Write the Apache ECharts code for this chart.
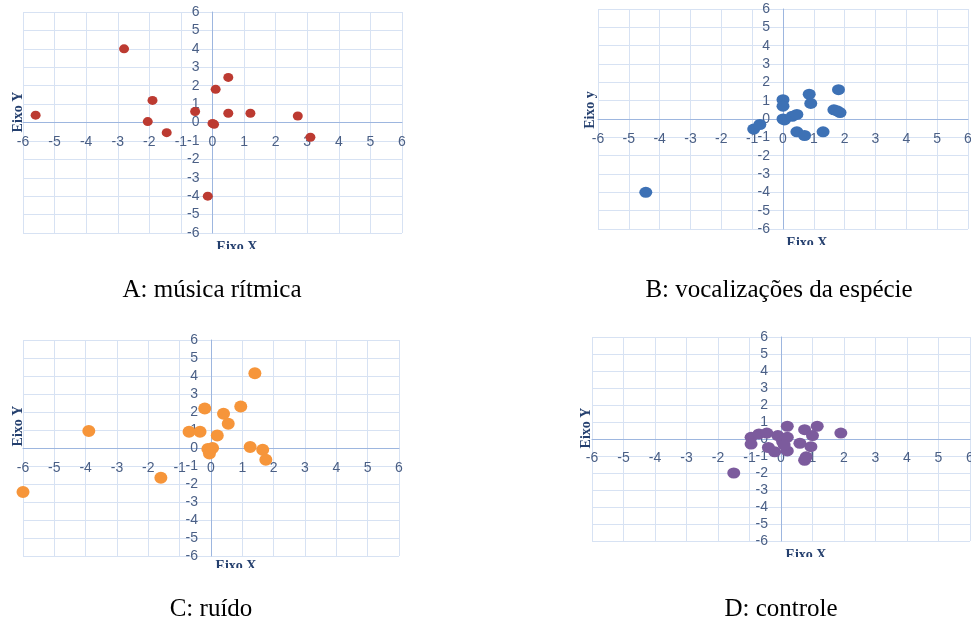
<!DOCTYPE html>
<html>
<head>
<meta charset="utf-8">
<script src="https://cdn.jsdelivr.net/npm/echarts@6/dist/echarts.min.js"></script>
<style>
  html, body { margin: 0; padding: 0; background: #fff; }
  #main { width: 971px; height: 620px; }
</style>
</head>
<body>
<div id="main"></div>
<script>
var myChart = echarts.init(document.getElementById('main'));

const ritmica = [
  [-5.6, 0.4], [-2.8, 4.0], [-1.9, 1.2], [-2.05, 0.05], [-1.45, -0.55],
  [-0.55, 0.6], [0.0, -0.05], [0.05, -0.1], [0.1, 1.8], [0.5, 2.45],
  [0.5, 0.5], [1.2, 0.5], [2.7, 0.35], [3.1, -0.8], [-0.15, -4.0]
];
const vocalizacoes = [
  [-4.45, -4.0], [-0.95, -0.55], [-0.75, -0.3], [0.0, 1.05], [0.0, 0.7],
  [0.0, 0.0], [0.05, -0.05], [0.3, 0.15], [0.45, 0.25], [0.45, -0.7],
  [0.7, -0.9], [0.85, 1.35], [0.9, 0.85], [1.3, -0.7], [1.65, 0.5],
  [1.75, 0.45], [1.85, 0.35], [1.8, 1.6]
];
const ruido = [
  [-6.0, -2.45], [-3.9, 0.95], [-1.6, -1.65], [-0.7, 0.9], [-0.35, 0.9],
  [-0.2, 2.2], [-0.1, -0.05], [-0.05, -0.3], [0.05, 0.0], [0.2, 0.7],
  [0.4, 1.9], [0.55, 1.35], [0.95, 2.3], [1.25, 0.05], [1.4, 4.15],
  [1.65, -0.1], [1.75, -0.65]
];
const controle = [
  [-1.5, -2.0], [-0.95, 0.1], [-0.95, -0.3], [-0.7, 0.3], [-0.45, 0.35],
  [-0.4, -0.5], [-0.2, -0.75], [-0.1, 0.2], [0.05, -0.15], [0.2, 0.75],
  [0.2, 0.1], [0.2, -0.7], [0.1, -0.35], [0.6, -0.25], [0.75, 0.55],
  [0.75, -1.25], [0.8, -1.05], [0.95, -0.45], [1.0, 0.2], [1.15, 0.75],
  [1.9, 0.35]
];

const painelNomes = ['A: música rítmica', 'B: vocalizações da espécie', 'C: ruído', 'D: controle'];
const eixoYNomes = ['Eixo Y', 'Eixo y', 'Eixo Y', 'Eixo Y'];
const eixoXNome = 'Eixo X';
const cores = ['#BC3A31', '#3D71B5', '#F6953A', '#7C5B9D'];
const series4 = [ritmica, vocalizacoes, ruido, controle];

// layout de cada painel
const grids = [
  { left: 23, top: 12, width: 379, height: 221 },
  { left: 598, top: 9, width: 370, height: 220 },
  { left: 23, top: 340, width: 376, height: 216 },
  { left: 592, top: 337, width: 378, height: 204 }
];
const xLabelMargin = [13, 13, 13, 12];
const symbolSizes = [[10, 9], [13, 11], [13, 12], [13, 11]];
const yTitlePos = [[18, 112], [590, 110], [18, 426], [586, 428]];
const xTitlePos = [[237, 247], [807, 243], [236, 566], [806, 555]];
const clipY = [249, 245, 568, 557];
const captionPos = [[212, 290], [779, 290], [211, 609], [781, 609]];

const gridColor = '#D7E2F3';
const axisColor = '#9DB6DF';
const labelColor = '#4A5F85';
const titleColor = '#243F6E';

var xAxes = [], yAxes = [], series = [], graphic = [];
grids.forEach(function (g, i) {
  // eixos cruzando no zero (faixa simétrica -6..6 => centro do painel)
  xAxes.push({
    gridIndex: i, type: 'value', min: -6, max: 6, interval: 1,
    offset: -g.height / 2,
    axisLine: { onZero: false, lineStyle: { color: axisColor, width: 1 } },
    axisTick: { show: false },
    splitLine: { show: true, lineStyle: { color: gridColor, width: 1 } },
    axisLabel: { color: labelColor, fontSize: 14, fontFamily: 'Liberation Sans', margin: xLabelMargin[i] }
  });
  yAxes.push({
    gridIndex: i, type: 'value', min: -6, max: 6, interval: 1,
    offset: -g.width / 2,
    axisLine: { onZero: false, lineStyle: { color: axisColor, width: 1 } },
    axisTick: { show: false },
    splitLine: { show: true, lineStyle: { color: gridColor, width: 1 } },
    axisLabel: { color: labelColor, fontSize: 14, fontFamily: 'Liberation Sans', margin: 13 }
  });
  series.push({
    type: 'scatter', xAxisIndex: i, yAxisIndex: i,
    data: series4[i],
    symbolSize: symbolSizes[i],
    itemStyle: { color: cores[i], opacity: 1 },
    silent: true
  });
  graphic.push({
    type: 'text', x: yTitlePos[i][0], y: yTitlePos[i][1], rotation: Math.PI / 2,
    style: { text: eixoYNomes[i], font: 'bold 14px "Liberation Serif"', fill: titleColor,
      textAlign: 'center', textVerticalAlign: 'middle' }
  });
  graphic.push({
    type: 'text', x: xTitlePos[i][0], y: xTitlePos[i][1],
    style: { text: eixoXNome, font: 'bold 14px "Liberation Serif"', fill: titleColor,
      textAlign: 'center', textVerticalAlign: 'middle' }
  });
  // o título do eixo X aparece cortado na figura original
  graphic.push({
    type: 'rect', z: 100,
    shape: { x: xTitlePos[i][0] - 40, y: clipY[i], width: 80, height: 16 },
    style: { fill: '#ffffff' }
  });
  graphic.push({
    type: 'text', x: captionPos[i][0], y: captionPos[i][1],
    style: { text: painelNomes[i], font: '25px "Liberation Serif"', fill: '#000000',
      textAlign: 'center', textVerticalAlign: 'middle' }
  });
});

const option = {
  animation: false,
  grid: grids.map(function (g) {
    return Object.assign({ containLabel: false, outerBoundsMode: 'none' }, g);
  }),
  xAxis: xAxes,
  yAxis: yAxes,
  series: series,
  graphic: graphic
};

myChart.setOption(option);
</script>
</body>
</html>
